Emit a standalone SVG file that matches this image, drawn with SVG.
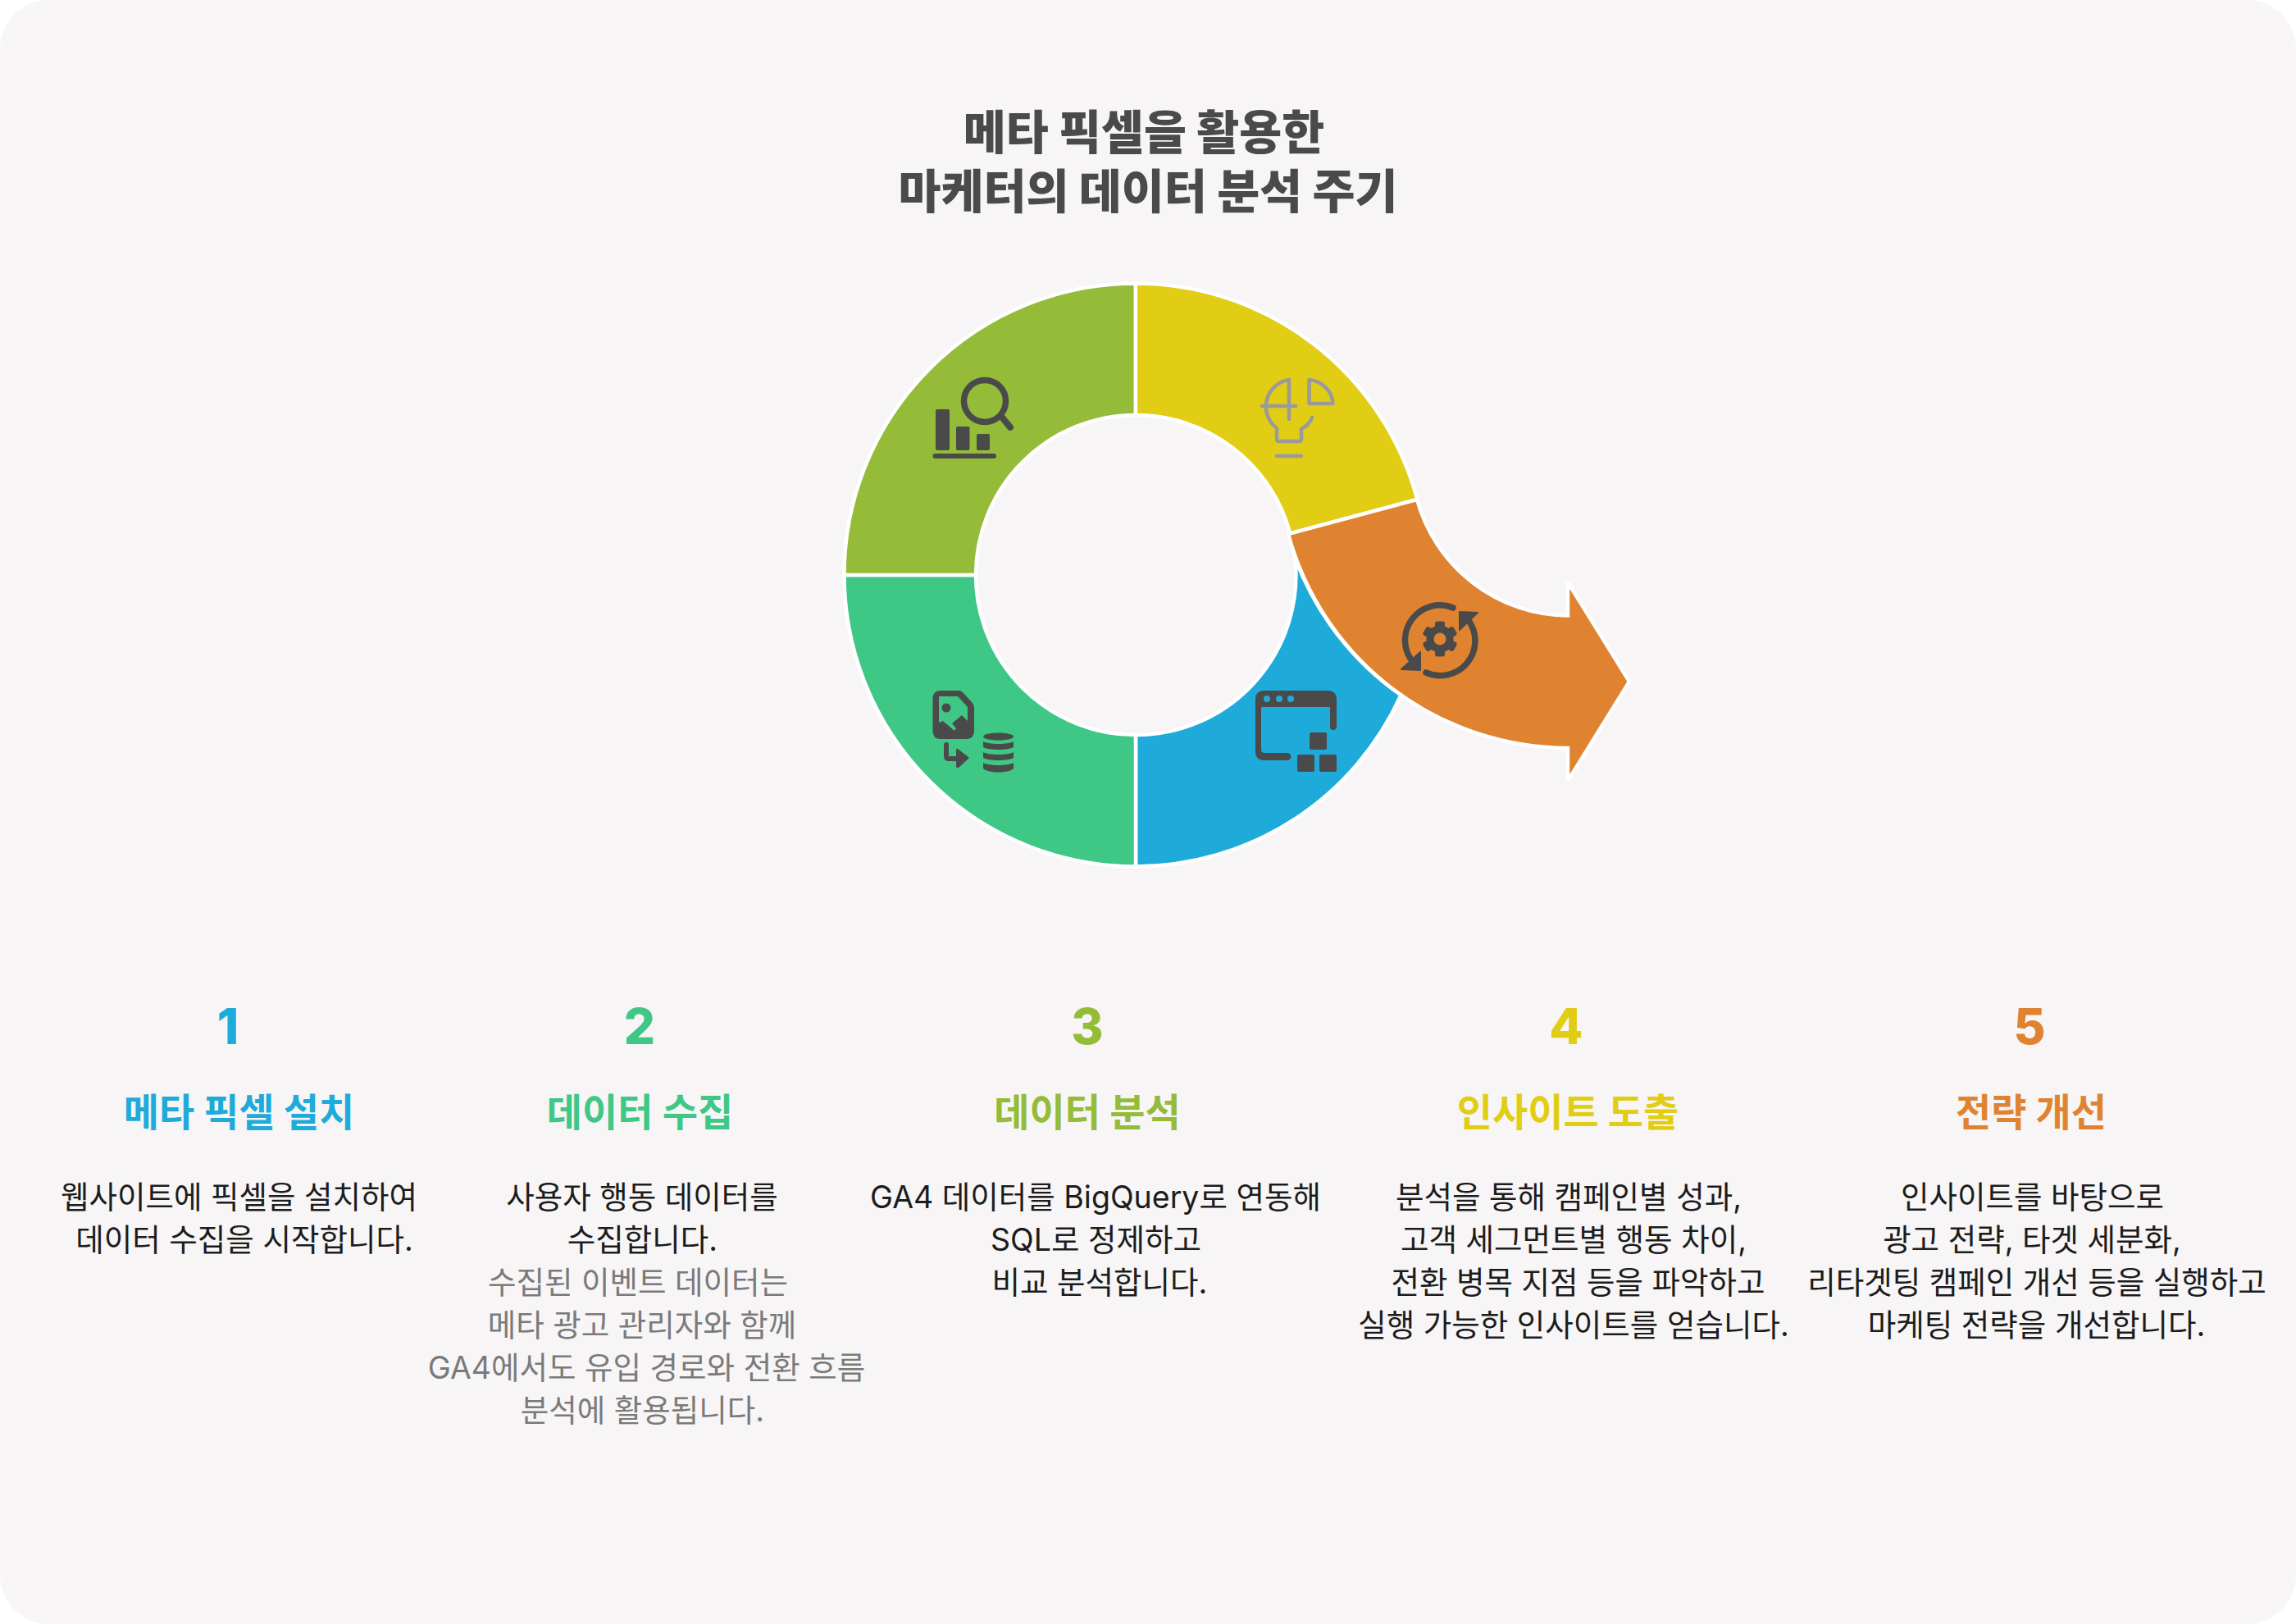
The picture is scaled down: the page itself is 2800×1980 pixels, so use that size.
<svg xmlns="http://www.w3.org/2000/svg" width="2800" height="1980" viewBox="0 0 2800 1980">
<style>
text{font-family:"Inter","Noto Sans CJK KR","Noto Sans",sans-serif;text-anchor:middle}
.seg{stroke:#fff;stroke-width:4.5;stroke-linejoin:miter;stroke-miterlimit:2}
.title{font-size:56.500px;font-weight:800;fill:#4a4a4a}
.num{font-size:60px;font-weight:800}
.head{font-size:47px;font-weight:700}
.body{font-size:37.500px;font-weight:400;fill:#1c1c1c}
.gray{font-size:37.500px;font-weight:400;fill:#7a7a7a}
.ic{fill:#4a4a4a}
.ln{fill:none;stroke:#4a4a4a;stroke-linecap:round;stroke-linejoin:round}
.bulb{fill:none;stroke:#9a9a9a;stroke-width:4.500;stroke-linecap:round;stroke-linejoin:round}
.blue{fill:#1fabda}.green{fill:#3fc785}.olive{fill:#94bc38}.yellow{fill:#e0cd14}.orange{fill:#e08331}
</style>
<rect id="background" x="0" y="0" width="2800" height="1980" rx="60" fill="#f7f5f6"/>
<g id="title">
<text class="title" x="1395" y="182">메타 픽셀을 활용한</text>
<text class="title" x="1400" y="254">마케터의 데이터 분석 주기</text>
</g>
<g id="segment-blue">
<path class="seg blue" d="M1385 1056.500A355.500 355.500 0 0 0 1708.500 847.500A354 354 0 0 1 1579.300 680A195 195 0 0 1 1385 896Z"/>
<path class="ic" d="M1542 842H1619Q1630 842 1630 853V886a4 4 0 0 1-8 0V862H1538V914Q1538 918 1542 918H1570a4.500 4.500 0 0 1 0 9H1542Q1531 927 1531 916V853Q1531 842 1542 842Z"/>
<circle class="blue" cx="1545" cy="852" r="4"/><circle class="blue" cx="1560" cy="852" r="4"/><circle class="blue" cx="1574" cy="852" r="4"/>
<rect class="ic" x="1597" y="893" width="21" height="21" rx="2"/><rect class="ic" x="1582" y="920" width="21" height="21" rx="2"/><rect class="ic" x="1609" y="920" width="21" height="21" rx="2"/>
</g>
<g id="segment-green">
<path class="seg green" d="M1029.500 701A355.500 355.500 0 0 0 1385 1056.500V896A195 195 0 0 1 1190 701Z"/>
<path class="ic" fill-rule="evenodd" d="M1147 842H1169Q1172 842 1174 844L1185 856Q1188 859 1188 863V891Q1188 901 1178 901H1147Q1137.500 901 1137.500 891V852Q1137.500 842 1147 842ZM1145 849V881L1150 879L1164 891L1166 888L1161 882L1173 872L1180 879V862L1168 849Z"/>
<circle class="ic" cx="1154" cy="863" r="5.500"/>
<path class="ln" stroke-width="6" d="M1154 908V922Q1154 925 1157 925H1170"/>
<path class="ic" d="M1168 913Q1166 912 1166 915V934Q1166 937 1169 936L1181 925Q1182 924 1181 923Z"/>
<path class="ic" d="M1199 898C1199 892 1236 892 1236 898C1236 904 1199 904 1199 898Z"/>
<path class="ic" d="M1199 904C1205 908 1230 908 1236 904V911C1230 915 1205 915 1199 911Z"/>
<path class="ic" d="M1199 917C1205 921 1230 921 1236 917V924C1230 928 1205 928 1199 924Z"/>
<path class="ic" d="M1199 930C1205 934 1230 934 1236 930V937C1230 943 1205 943 1199 937Z"/>
</g>
<g id="segment-olive">
<path class="seg olive" d="M1385 345.500A355.500 355.500 0 0 0 1029.500 701H1190A195 195 0 0 1 1385 506Z"/>
<rect class="ic" x="1141" y="499" width="17" height="50" rx="2"/><rect class="ic" x="1166" y="520" width="16.500" height="29" rx="2"/><rect class="ic" x="1191" y="529" width="16" height="20" rx="2"/>
<rect class="ic" x="1137.500" y="553" width="77.500" height="6" rx="3"/>
<circle class="ln" cx="1201" cy="489" r="25.500" stroke-width="7.500"/>
<path class="ln" stroke-width="8" d="M1223 510L1232 521"/>
</g>
<g id="segment-yellow">
<path class="seg yellow" d="M1385 345.500A355.500 355.500 0 0 1 1728.400 609L1573.400 650.500A195 195 0 0 0 1385 506Z"/>
<path class="bulb" d="M1572 463V511M1539 495H1580M1572 463A33 33 0 0 0 1557 522V535Q1557 538 1560 538H1584Q1587 538 1587 535V523Q1597 518 1600 509M1557 556H1587M1596.500 463A33 30 0 0 1 1625.500 492H1596.500Z"/>
</g>
<g id="segment-orange">
<path class="seg orange" d="M1728 609A192.500 192.500 0 0 0 1912 750.500V710L1987 831L1912 952V912A354 354 0 0 1 1571 651.200Z"/>
<path class="ln" stroke-width="7.500" fill="none" d="M1772 741A42.500 42.500 0 0 0 1720 803"/>
<path class="ln" stroke-width="7.500" fill="none" d="M1739 820A42.500 42.500 0 0 0 1792 758"/>
<path class="ic" stroke="#4a4a4a" stroke-width="2" stroke-linejoin="round" d="M1732 795L1709 816L1732 817Z"/>
<path class="ic" stroke="#4a4a4a" stroke-width="2" stroke-linejoin="round" d="M1780 746L1802 747L1780 768Z"/>
<g transform="translate(1756 779)">
<circle class="ic" r="16.500"/>
<g id="gear-teeth"><rect class="ic" x="-6" y="-21.500" width="12" height="12" rx="3"/><rect class="ic" x="-6" y="-21.500" width="12" height="12" rx="3" transform="rotate(60)"/><rect class="ic" x="-6" y="-21.500" width="12" height="12" rx="3" transform="rotate(120)"/><rect class="ic" x="-6" y="-21.500" width="12" height="12" rx="3" transform="rotate(180)"/><rect class="ic" x="-6" y="-21.500" width="12" height="12" rx="3" transform="rotate(240)"/><rect class="ic" x="-6" y="-21.500" width="12" height="12" rx="3" transform="rotate(300)"/></g>
<circle class="orange" r="7.500"/>
</g>
</g>
<g id="step-1">
<text class="num" x="278" y="1273" fill="#1fabda">1</text>
<text class="head" x="291.500" y="1373" fill="#1fabda">메타 픽셀 설치</text>
<text class="body" x="291.500" y="1473">웹사이트에 픽셀을 설치하여</text>
<text class="body" x="298" y="1525">데이터 수집을 시작합니다.</text>
</g>
<g id="step-2">
<text class="num" x="780" y="1273" fill="#3fc785">2</text>
<text class="head" x="780.500" y="1373" fill="#3fc785">데이터 수집</text>
<text class="body" x="783" y="1473">사용자 행동 데이터를</text>
<text class="body" x="783.500" y="1525">수집합니다.</text>
<text class="gray" x="778" y="1577">수집된 이벤트 데이터는</text>
<text class="gray" x="783" y="1629">메타 광고 관리자와 함께</text>
<text class="gray" x="788.500" y="1681">GA4에서도 유입 경로와 전환 흐름</text>
<text class="gray" x="783.500" y="1733">분석에 활용됩니다.</text>
</g>
<g id="step-3">
<text class="num" x="1326" y="1273" fill="#94bc38">3</text>
<text class="head" x="1326" y="1373" fill="#94bc38">데이터 분석</text>
<text class="body" x="1336" y="1473">GA4 데이터를 BigQuery로 연동해</text>
<text class="body" x="1336.500" y="1525">SQL로 정제하고</text>
<text class="body" x="1341" y="1577">비교 분석합니다.</text>
</g>
<g id="step-4">
<text class="num" x="1910" y="1273" fill="#e0cd14">4</text>
<text class="head" x="1912" y="1373" fill="#e0cd14">인사이트 도출</text>
<text class="body" x="1913" y="1473">분석을 통해 캠페인별 성과,</text>
<text class="body" x="1919" y="1525">고객 세그먼트별 행동 차이,</text>
<text class="body" x="1924.500" y="1577">전환 병목 지점 등을 파악하고</text>
<text class="body" x="1919" y="1629">실행 가능한 인사이트를 얻습니다.</text>
</g>
<g id="step-5">
<text class="num" x="2475" y="1273" fill="#e08331">5</text>
<text class="head" x="2477" y="1373" fill="#e08331">전략 개선</text>
<text class="body" x="2478.500" y="1473">인사이트를 바탕으로</text>
<text class="body" x="2478" y="1525">광고 전략, 타겟 세분화,</text>
<text class="body" x="2484" y="1577">리타겟팅 캠페인 개선 등을 실행하고</text>
<text class="body" x="2483.500" y="1629">마케팅 전략을 개선합니다.</text>
</g>
</svg>
